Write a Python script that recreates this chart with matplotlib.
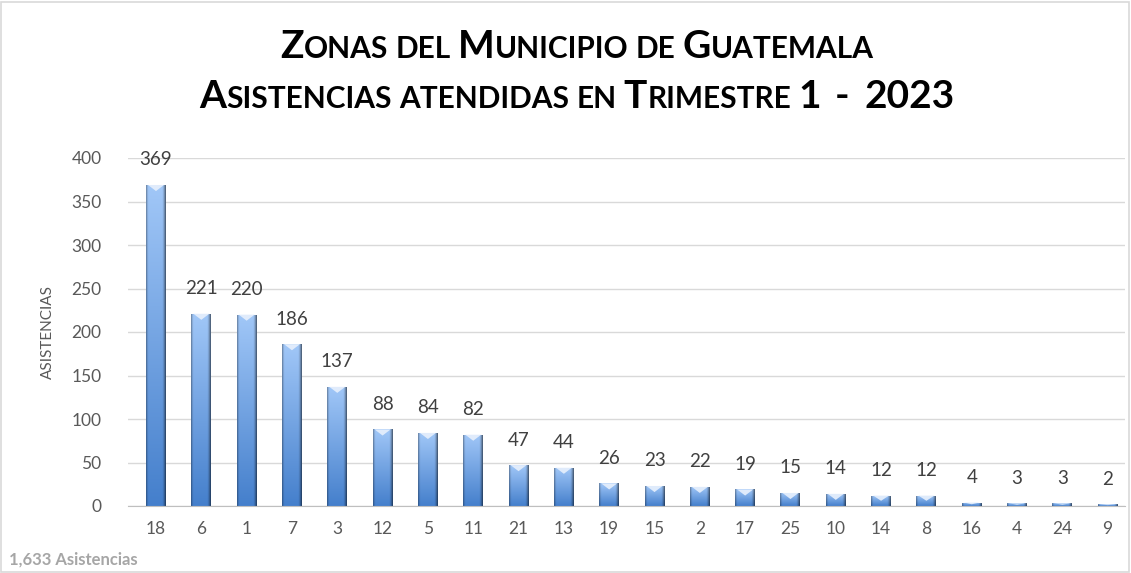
import matplotlib
matplotlib.use("Agg")
import matplotlib.pyplot as plt
import numpy as np
from matplotlib.offsetbox import TextArea, HPacker, AnnotationBbox
from matplotlib.patches import Rectangle, Polygon

zones = ["18", "6", "1", "7", "3", "12", "5", "11", "21", "13", "19", "15",
         "2", "17", "25", "10", "14", "8", "16", "4", "24", "9"]
values = [369, 221, 220, 186, 137, 88, 84, 82, 47, 44, 26, 23,
          22, 19, 15, 14, 12, 12, 4, 3, 3, 2]
yticks = [0, 50, 100, 150, 200, 250, 300, 350, 400]
title1 = "Zonas del Municipio de Guatemala"
title2 = "Asistencias atendidas en Trimestre 1  -  2023"
total_label = "1,633 Asistencias"
ylabel = "ASISTENCIAS"

FONT = "Lato"
W, H = 1131, 573
fig = plt.figure(figsize=(W / 100, H / 100), dpi=100)
fig.patch.set_facecolor("white")
fig.patches.append(Rectangle((0.001, 0.002), 0.997, 0.995, transform=fig.transFigure,
                             fill=False, edgecolor="#d9d9d9", linewidth=1.2))

ax = fig.add_axes([128 / W, 1 - 506 / H, (1125 - 128) / W, (506 - 158) / H])
ax.set_ylim(0, 400)
x = np.arange(len(zones))
step = 997 / 22
x0 = -(156 - 128) / step
ax.set_xlim(x0, x0 + 22)
ax.set_yticks(yticks)
ax.set_yticklabels([str(t) for t in yticks], fontsize=12.5, color="#595959", family=FONT)
ax.set_xticks(x)
ax.set_xticklabels(zones, fontsize=12.5, color="#595959", family=FONT)
ax.tick_params(axis="y", length=0, pad=19)
ax.tick_params(axis="x", length=0, pad=11)
for s in ["top", "right", "left"]:
    ax.spines[s].set_visible(False)
ax.spines["bottom"].set_color("#bfbfbf")
ax.yaxis.grid(True, color="#d9d9d9", linewidth=1)
ax.set_axisbelow(True)
ax.set_ylabel(ylabel, fontsize=11, color="#595959", family=FONT, labelpad=12)

bw = 0.44
bars = ax.bar(x, values, width=bw, color="none", edgecolor="none")

# gradient image: vertical light->dark, horizontal cylinder shading
n = 64
vert = np.linspace(0, 1, n)[:, None]  # 0 bottom -> 1 top
h = np.linspace(0, 1, 40)[None, :]
top_col = np.array([0.63, 0.78, 0.97])
bot_col = np.array([0.27, 0.50, 0.80])
grad = bot_col[None, None, :] * (1 - vert[..., None]) + top_col[None, None, :] * vert[..., None]
prof = 1 - 0.55 * np.clip((h - 0.82) / 0.18, 0, 1) ** 1.5 - 0.35 * np.clip((0.12 - h) / 0.12, 0, 1) ** 1.5
grad = np.clip(grad * prof[..., None], 0, 1)
for b, v in zip(bars, values):
    xl = b.get_x()
    im = ax.imshow(grad, extent=[xl, xl + bw, 0, v], origin="lower", aspect="auto",
                   zorder=2, interpolation="bilinear")
    im.set_clip_path(b)
    th = min(7, v * 0.5)
    tri = Polygon([[xl + bw * 0.1, v], [xl + bw * 0.9, v], [xl + bw / 2, v - th]], closed=True,
                  facecolor="#e4eefc", edgecolor="none", alpha=0.95, zorder=3)
    ax.add_patch(tri)
    ax.annotate(str(v), (b.get_x() + bw / 2, v), xytext=(0, 18), textcoords="offset points",
                ha="center", va="center", fontsize=13.5, color="#404040", family=FONT)
ax.set_xlim(x0, x0 + 22)
ax.set_ylim(0, 400)


def smallcaps(text, big=28, small=21.5):
    parts = []
    props = lambda s: dict(fontsize=s, family=FONT, weight="bold", color="black")
    for word_i, word in enumerate(text.split(" ")):
        if word_i > 0:
            parts.append(TextArea(" ", textprops=props(small)))
        if word == "":
            continue
        run = ""
        run_up = None
        for ch in word:
            up = ch.isupper() or ch.isdigit() or not ch.isalpha()
            if run_up is None or up == run_up:
                run += ch
                run_up = up
            else:
                parts.append(TextArea(run if run_up else run.upper(),
                                      textprops=props(big if run_up else small)))
                run = ch
                run_up = up
        if run:
            parts.append(TextArea(run if run_up else run.upper(),
                                  textprops=props(big if run_up else small)))
    return HPacker(children=parts, align="baseline", pad=0, sep=0)


for txt, yc in [(title1, 47), (title2, 97)]:
    box = smallcaps(txt)
    ab = AnnotationBbox(box, (577 / W, 1 - yc / H), xycoords="figure fraction",
                        frameon=False, box_alignment=(0.5, 0.5), pad=0)
    fig.add_artist(ab)

fig.text(9 / W, 1 - 560 / H, total_label, fontsize=12, color="#a6a6a6", weight="bold",
         family=FONT, ha="left", va="center")

fig.savefig("out.png", dpi=100)
